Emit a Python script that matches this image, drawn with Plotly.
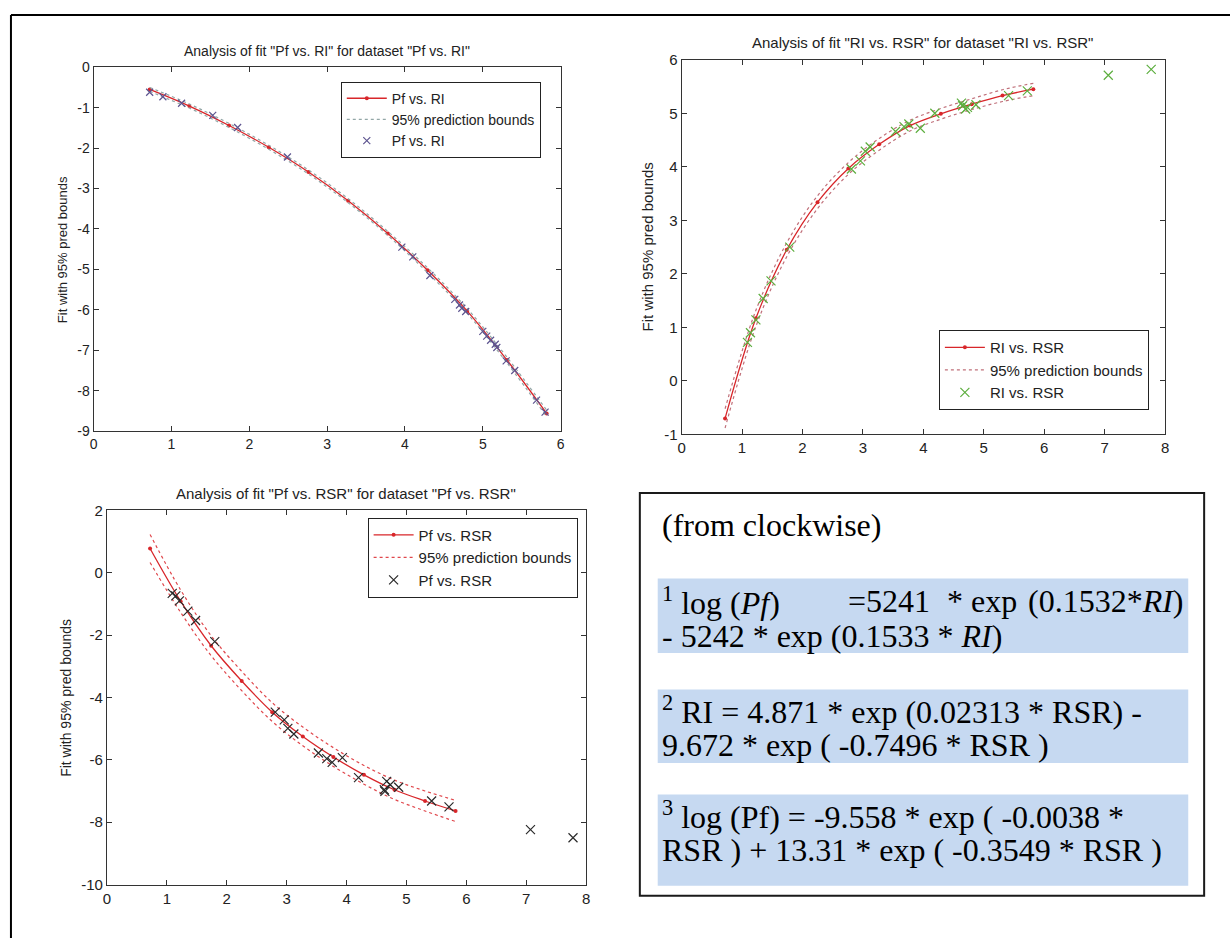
import plotly.graph_objects as go

W, H = 1230, 938

# ---------------- data ----------------
fit_x = [0.72, 1.23, 1.74, 2.25, 2.76, 3.27, 3.78, 4.29, 4.80, 5.31, 5.82]

# Plot 1: Pf vs. RI
p1_fit_y = [-0.55, -0.96, -1.44, -1.98, -2.59, -3.30, -4.11, -5.02, -6.03, -7.24, -8.56]
p1_up_y = [-0.50, -0.91, -1.39, -1.93, -2.54, -3.25, -4.06, -4.96, -5.97, -7.17, -8.48]
p1_lo_y = [-0.60, -1.01, -1.49, -2.03, -2.64, -3.35, -4.16, -5.08, -6.09, -7.31, -8.64]
p1_pts_x = [0.72, 0.89, 1.13, 1.53, 1.85, 2.49, 3.96, 4.10, 4.32, 4.64, 4.70, 4.73, 4.78,
            5.00, 5.05, 5.10, 5.16, 5.18, 5.30, 5.41, 5.69, 5.80]
p1_pts_y = [-0.62, -0.73, -0.89, -1.19, -1.49, -2.22, -4.45, -4.69, -5.15, -5.74, -5.88, -5.96,
            -6.04, -6.53, -6.65, -6.75, -6.85, -6.93, -7.26, -7.50, -8.23, -8.53]

# Plot 2: RI vs. RSR
p2_fit_y = [-0.70, 1.17, 2.45, 3.34, 3.97, 4.42, 4.77, 4.99, 5.17, 5.33, 5.45]
p2_up_y = [-0.52, 1.32, 2.58, 3.46, 4.08, 4.53, 4.87, 5.09, 5.27, 5.44, 5.56]
p2_lo_y = [-0.88, 1.02, 2.32, 3.22, 3.86, 4.31, 4.67, 4.89, 5.07, 5.22, 5.33]
p2_pts_x = [1.09, 1.14, 1.23, 1.35, 1.48, 1.79, 2.81, 2.96, 3.04, 3.12, 3.54, 3.68, 3.76, 3.95,
            4.19, 4.63, 4.65, 4.70, 4.73, 4.87, 5.41, 5.72, 7.06, 7.77]
p2_pts_y = [0.72, 0.90, 1.14, 1.54, 1.87, 2.50, 3.96, 4.11, 4.29, 4.37, 4.66, 4.75, 4.80, 4.72,
            5.00, 5.19, 5.14, 5.08, 5.11, 5.16, 5.33, 5.42, 5.71, 5.82]

# Plot 3: Pf vs. RSR
p3_fit_y = [0.78, -0.91, -2.34, -3.47, -4.47, -5.25, -5.91, -6.48, -6.96, -7.32, -7.64]
p3_up_y = [1.23, -0.55, -2.02, -3.16, -4.17, -4.95, -5.61, -6.18, -6.65, -7.00, -7.30]
p3_lo_y = [0.33, -1.27, -2.66, -3.78, -4.77, -5.55, -6.21, -6.78, -7.27, -7.64, -7.98]
p3_pts_x = [1.09, 1.15, 1.21, 1.35, 1.48, 1.80, 2.81, 2.96, 3.02, 3.12, 3.53, 3.67, 3.76, 3.93,
            4.20, 4.63, 4.64, 4.67, 4.73, 4.87, 5.42, 5.71, 7.07, 7.78]
p3_pts_y = [-0.66, -0.74, -0.90, -1.23, -1.53, -2.21, -4.47, -4.72, -4.99, -5.17, -5.78, -5.96,
            -6.08, -5.93, -6.57, -6.96, -7.01, -6.69, -6.80, -6.88, -7.32, -7.51, -8.24, -8.50]

# tick labels (MATLAB style hyphen minus)
p1_xticks = [0, 1, 2, 3, 4, 5, 6]
p1_yticks = [0, -1, -2, -3, -4, -5, -6, -7, -8, -9]
p2_xticks = [0, 1, 2, 3, 4, 5, 6, 7, 8]
p2_yticks = [-1, 0, 1, 2, 3, 4, 5, 6]
p3_xticks = [0, 1, 2, 3, 4, 5, 6, 7, 8]
p3_yticks = [-10, -8, -6, -4, -2, 0, 2]

titles = ['Analysis of fit "Pf vs. RI" for dataset "Pf vs. RI"',
          'Analysis of fit "RI vs. RSR" for dataset "RI vs. RSR"',
          'Analysis of fit "Pf vs. RSR" for dataset "Pf vs. RSR"']
ylabel = "Fit with 95% pred bounds"
names = ["Pf vs. RI", "RI vs. RSR", "Pf vs. RSR"]

# ---------------- helpers ----------------
def px(x):
    return x / W


def py(y):
    return 1 - y / H


SANS = "Liberation Sans, Arial, sans-serif"
SERIF = "Liberation Serif, Times New Roman, serif"
RED = "#d8262a"

fig = go.Figure()

panels = [
    dict(fx=fit_x, fy=p1_fit_y, up=p1_up_y, lo=p1_lo_y, dx=p1_pts_x, dy=p1_pts_y,
         mcol="#5e5590", bcol="#93a7a7", msize=7, xa="x", ya="y", leg="legend", name=names[0]),
    dict(fx=fit_x, fy=p2_fit_y, up=p2_up_y, lo=p2_lo_y, dx=p2_pts_x, dy=p2_pts_y,
         mcol="#5cae3e", bcol="#c0707a", msize=9, xa="x2", ya="y2", leg="legend2", name=names[1]),
    dict(fx=fit_x, fy=p3_fit_y, up=p3_up_y, lo=p3_lo_y, dx=p3_pts_x, dy=p3_pts_y,
         mcol="#2a2a2a", bcol="#e0474c", msize=9, xa="x3", ya="y3", leg="legend3", name=names[2]),
]

for p in panels:
    fig.add_trace(go.Scatter(x=p["fx"], y=p["fy"], mode="lines+markers", name=p["name"],
                             line=dict(color=RED, width=1.3, shape="spline"),
                             marker=dict(color=RED, size=4),
                             xaxis=p["xa"], yaxis=p["ya"], legend=p["leg"]))
    fig.add_trace(go.Scatter(x=p["fx"], y=p["up"], mode="lines", name="95% prediction bounds",
                             line=dict(color=p["bcol"], width=1.2, dash="dot", shape="spline"),
                             xaxis=p["xa"], yaxis=p["ya"], legend=p["leg"]))
    fig.add_trace(go.Scatter(x=p["fx"], y=p["lo"], mode="lines", showlegend=False,
                             line=dict(color=p["bcol"], width=1.2, dash="dot", shape="spline"),
                             xaxis=p["xa"], yaxis=p["ya"], legend=p["leg"]))
    fig.add_trace(go.Scatter(x=p["dx"], y=p["dy"], mode="markers", name=p["name"],
                             marker=dict(symbol="x-thin-open", size=p["msize"],
                                         line=dict(color=p["mcol"], width=1.2), color=p["mcol"]),
                             xaxis=p["xa"], yaxis=p["ya"], legend=p["leg"]))


def ax(domain, rng, ticks, fsize, anchor):
    return dict(domain=domain, range=rng, tickvals=ticks, ticktext=[str(t) for t in ticks],
                showline=True, linecolor="#333333", linewidth=1, mirror="allticks",
                ticks="inside", ticklen=5, tickcolor="#333333", showgrid=False, zeroline=False,
                tickfont=dict(family=SANS, size=fsize, color="#222222"), anchor=anchor)


# axes pixel boxes: (left, right, top, bottom)
b1 = (90.2, 560.3, 59.3, 430.0)
b2 = (682.0, 1168.7, 51.7, 433.3)
b3 = (103.6, 586.0, 510.7, 891.7)

fig.update_layout(
    xaxis=ax([px(b1[0]), px(b1[1])], [0, 6], p1_xticks, 14, "y"),
    yaxis=ax([py(b1[3]), py(b1[2])], [-9, 0], p1_yticks, 14, "x"),
    xaxis2=ax([px(b2[0]), px(b2[1])], [0, 8], p2_xticks, 15, "y2"),
    yaxis2=ax([py(b2[3]), py(b2[2])], [-1, 6], p2_yticks, 15, "x2"),
    xaxis3=ax([px(b3[0]), px(b3[1])], [0, 8], p3_xticks, 15, "y3"),
    yaxis3=ax([py(b3[3]), py(b3[2])], [-10, 2], p3_yticks, 15, "x3"),
)


def leg(x, y, fs):
    return dict(x=px(x), y=py(y), xanchor="left", yanchor="top", bgcolor="white",
                bordercolor="#222222", borderwidth=1, font=dict(family=SANS, size=fs, color="#222222"),
                tracegroupgap=0, itemwidth=40)


fig.update_layout(legend=leg(339, 74, 14), legend2=leg(941, 327, 15), legend3=leg(366, 518, 15))

annots = []
# titles
for (tx, ty, fs), t in zip([(325, 43, 14), (925, 34, 15), (344, 493, 15)], titles):
    annots.append(dict(x=px(tx), y=py(ty), xref="paper", yref="paper", text=t, showarrow=False,
                       xanchor="center", yanchor="middle", font=dict(family=SANS, size=fs, color="#222222")))
# y labels
for (tx, ty, fs) in [(59, 245, 13), (648, 242, 15), (63, 702, 14)]:
    annots.append(dict(x=px(tx), y=py(ty), xref="paper", yref="paper", text=ylabel, showarrow=False,
                       textangle=-90, xanchor="center", yanchor="middle",
                       font=dict(family=SANS, size=fs, color="#222222")))

# text box content
TF = dict(family=SERIF, size=32, color="black")
lines = [
    (660, 526, "left", "(from clockwise)"),
    (660, 603, "left", "<sup>1</sup> log (<i>Pf</i>)"),
    (848, 603, "left", "=5241"),
    (947, 603, "left", "*"),
    (971, 603, "left", "exp"),
    (1190, 603, "right", "(0.1532*<i>RI</i>)"),
    (660, 639, "left", "- 5242 * exp (0.1533 * <i>RI</i>)"),
    (660, 714, "left", "<sup>2</sup> RI = 4.871 * exp (0.02313 * RSR) -"),
    (660, 750, "left", "9.672 * exp ( -0.7496 * RSR )"),
    (660, 821, "left", "<sup>3</sup> log (Pf) = -9.558 * exp ( -0.0038 *"),
    (660, 857, "left", "RSR ) + 13.31 * exp ( -0.3549 * RSR )"),
]
for x, y, anc, t in lines:
    annots.append(dict(x=px(x), y=py(y), xref="paper", yref="paper", text=t, showarrow=False,
                       xanchor=anc, yanchor="middle", font=TF))

shapes = [
    # outer frame (top & left visible)
    dict(type="line", xref="paper", yref="paper", x0=px(7), x1=px(1240), y0=py(6), y1=py(6),
         line=dict(color="black", width=2)),
    dict(type="line", xref="paper", yref="paper", x0=px(7), x1=px(7), y0=py(6), y1=py(950),
         line=dict(color="black", width=2)),
    # highlighted bands
    dict(type="rect", xref="paper", yref="paper", x0=px(658), x1=px(1192), y0=py(580), y1=py(656),
         fillcolor="#c6d9f1", line=dict(width=0), layer="below"),
    dict(type="rect", xref="paper", yref="paper", x0=px(658), x1=px(1192), y0=py(693), y1=py(768),
         fillcolor="#c6d9f1", line=dict(width=0), layer="below"),
    dict(type="rect", xref="paper", yref="paper", x0=px(658), x1=px(1192), y0=py(800), y1=py(893),
         fillcolor="#c6d9f1", line=dict(width=0), layer="below"),
    # text box border
    dict(type="rect", xref="paper", yref="paper", x0=px(640), x1=px(1208), y0=py(493), y1=py(903),
         line=dict(color="#1a1a1a", width=2), fillcolor="rgba(0,0,0,0)"),
]

fig.update_layout(width=W, height=H, margin=dict(l=0, r=0, t=0, b=0),
                  paper_bgcolor="white", plot_bgcolor="white",
                  annotations=annots, shapes=shapes, showlegend=True)

fig.write_html("out.html")
